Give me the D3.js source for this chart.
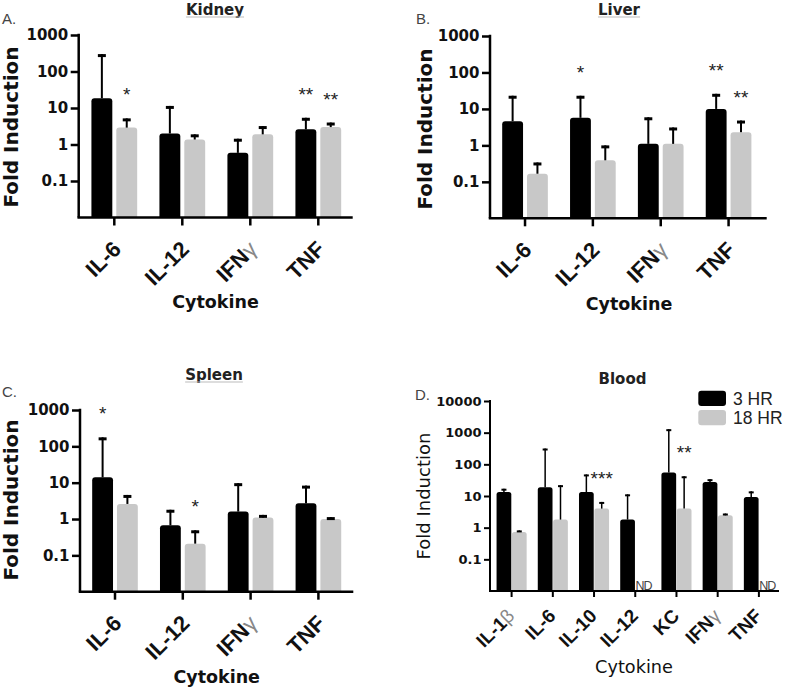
<!DOCTYPE html>
<html><head><meta charset="utf-8">
<script src="https://cdn.jsdelivr.net/npm/d3@7"></script>
<style>body{margin:0;background:#fff} svg{display:block}</style>
</head><body>
<svg id="chart" width="787" height="691"></svg>
<script>
// ---------------- DATA ----------------
const seriesNames = ["3 HR", "18 HR"];

const organCats = ["IL-6", "IL-12", "IFNγ", "TNF"];
const yTicksOrgan = [0.1, 1, 10, 100, 1000];
const yTickLabelsOrgan = ["0.1", "1", "10", "100", "1000"];

const kidney3hr = [18.5, 2.0, 0.59, 2.6];
const kidney3hrErr = [300, 11.4, 1.44, 5.4];
const kidney18hr = [2.9, 1.37, 1.9, 3.0];
const kidney18hrErr = [5.2, 1.9, 3.2, 4.0];
const kidneySig3hr = ["", "", "", "**"];
const kidneySig18hr = ["*", "", "", "**"];

const liver3hr = [4.6, 5.7, 1.1, 10.0];
const liver3hrErr = [23, 23, 5.9, 26];
const liver18hr = [0.167, 0.39, 1.1, 2.3];
const liver18hrErr = [0.34, 1.0, 3.1, 4.8];
const liverSig3hr = ["", "*", "", "**"];
const liverSig18hr = ["", "", "", "**"];

const spleen3hr = [14, 0.67, 1.6, 2.7];
const spleen3hrErr = [177, 1.8, 9.7, 8.3];
const spleen18hr = [2.6, 0.21, 1.1, 1.0];
const spleen18hrErr = [4.6, 0.49, 1.3, 1.13];
const spleenSig3hr = ["*", "", "", ""];
const spleenSig18hr = ["", "*", "", ""];

const bloodCats = ["IL-1β", "IL-6", "IL-10", "IL-12", "KC", "IFNγ", "TNF"];
const yTicksBlood = [0.1, 1, 10, 100, 1000, 10000];
const yTickLabelsBlood = ["0.1", "1", "10", "100", "1000", "10000"];
const blood3hr = [13.4, 19, 13.4, 1.8, 55, 27.7, 9.3];
const blood3hrErr = [17, 316, 48, 11.3, 1290, 34, 14];
const blood18hr = [0.73, 1.8, 4.0, null, 4.0, 2.45, null];
const blood18hrErr = [0.82, 22, 6.5, null, 42, 2.8, null];
const bloodSig3hr = ["", "", "", "", "", "", ""];
const bloodSig18hr = ["", "", "***", "", "**", "", ""];
const notDetected = "ND";

// ---------------- DRAWING ----------------
const svg = d3.select("#chart");
const colors = ["#000000", "#c8c8c8"];
const BOLD = "'DejaVu Sans', sans-serif";
const THIN = "'Liberation Sans', Arial, sans-serif";

function roundedTop(x, top, w, bot, r) {
  r = Math.min(r, w / 2, (bot - top));
  return `M${x},${bot}V${top + r}Q${x},${top} ${x + r},${top}H${x + w - r}Q${x + w},${top} ${x + w},${top + r}V${bot}Z`;
}

function catLabel(sel, name) {
  const m = name.match(/^(.*?)([βγ])$/);
  if (m) {
    sel.append("tspan").text(m[1]);
    sel.append("tspan").attr("font-weight", "normal").attr("fill", "#888").text(m[2]);
  } else sel.text(name);
}

function drawPanel(c) {
  const g = svg.append("g");
  const y = d3.scaleLog().domain([0.01, c.max]).range([c.yBottom, c.yTop]);
  const x = d3.scaleBand().domain(c.cats).range([c.bx0, c.bx1])
    .paddingInner(c.pad).paddingOuter(c.pad / 2);
  const xs = d3.scaleBand().domain(seriesNames).range([0, x.bandwidth()]).paddingInner(c.gap);

  const bot = y(0.01);
  c.values.forEach((vals, si) => {
    c.cats.forEach((cat, i) => {
      const v = vals[i];
      if (v == null) return;
      const bx = x(cat) + xs(seriesNames[si]);
      g.append("path").attr("d", roundedTop(bx, y(v), xs.bandwidth(), bot, c.r))
        .attr("fill", colors[si]);
    });
  });
  c.values.forEach((vals, si) => {
    c.cats.forEach((cat, i) => {
      const v = vals[i];
      const bx = x(cat) + xs(seriesNames[si]);
      const cx = bx + xs.bandwidth() / 2;
      if (v == null) {
        g.append("text").attr("x", bx).attr("y", bot - 1.5)
          .attr("font-family", THIN).attr("font-size", 12.5).attr("letter-spacing", -1)
          .attr("fill", "#444").text(notDetected);
        return;
      }
      const e = c.errors[si][i];
      g.append("line").attr("x1", cx).attr("x2", cx).attr("y1", y(v)).attr("y2", y(e))
        .attr("stroke", "#000").attr("stroke-width", c.ew);
      g.append("line").attr("x1", cx - c.capW / 2).attr("x2", cx + c.capW / 2)
        .attr("y1", y(e) + c.capT / 2).attr("y2", y(e) + c.capT / 2)
        .attr("stroke", "#000").attr("stroke-width", c.capT);
      const s = c.sig[si][i];
      if (s) {
        g.append("text").attr("x", cx).attr("y", y(e) - 17).attr("text-anchor", "middle")
          .attr("font-family", THIN).attr("font-size", 19).attr("fill", "#222").text(s);
      }
    });
  });

  const ya = d3.axisLeft(y).tickValues(c.ticks).tickFormat((d, i) => c.tickLabels[i])
    .tickSize(c.tickLen).tickSizeOuter(0).tickPadding(2.5);
  const yg = g.append("g").attr("transform", `translate(${c.x0},0)`).call(ya);
  yg.select(".domain").attr("stroke", "#000").attr("stroke-width", c.aw)
    .attr("d", `M0,${c.yTop - c.aw / 2}V${c.yBottom}`);
  yg.selectAll(".tick line").attr("stroke", "#000").attr("stroke-width", c.aw);
  yg.selectAll(".tick text").attr("font-family", BOLD).attr("font-weight", "bold")
    .attr("font-size", c.tickFont).attr("fill", "#111");

  const xa = d3.axisBottom(x).tickSize(c.tickLen).tickSizeOuter(0).tickFormat("");
  const xg = g.append("g").attr("transform", `translate(0,${c.yBottom})`).call(xa);
  xg.select(".domain").attr("stroke", "#000").attr("stroke-width", c.aw)
    .attr("d", `M${c.x0 - c.aw / 2},0H${c.x1}`);
  xg.selectAll(".tick line").attr("stroke", "#000").attr("stroke-width", c.aw);

  c.cats.forEach(cat => {
    const cx = x(cat) + x.bandwidth() / 2;
    const t = g.append("text")
      .attr("transform", `translate(${cx + c.catDx},${c.yBottom + c.catDy}) rotate(${c.rot})`)
      .attr("text-anchor", "end").attr("font-family", THIN).attr("font-weight", "bold")
      .attr("font-size", c.catFont).attr("fill", "#111");
    catLabel(t, cat);
  });

  const tt = g.append("text").attr("x", c.titleX).attr("y", c.titleY).attr("text-anchor", "middle")
    .attr("font-family", BOLD).attr("font-weight", "bold").attr("font-size", 15).attr("fill", "#222")
    .text(c.title);
  if (c.underline) {
    const w = tt.node().getComputedTextLength();
    g.append("line").attr("x1", c.titleX - w / 2).attr("x2", c.titleX + w / 2)
      .attr("y1", c.titleY + 2).attr("y2", c.titleY + 2).attr("stroke", "#bbb").attr("stroke-width", 1);
  }
  g.append("text").attr("x", c.letterX).attr("y", c.letterY)
    .attr("font-family", THIN).attr("font-size", 15).attr("fill", "#444").text(c.letter);
  g.append("text").attr("transform", `translate(${c.ylabX},${c.ylabY}) rotate(-90)`)
    .attr("text-anchor", "middle").attr("font-family", BOLD)
    .attr("font-weight", c.ylabBold ? "bold" : "normal")
    .attr("font-size", c.ylabFont).attr("fill", "#111").text("Fold Induction");
  g.append("text").attr("x", c.xlabX).attr("y", c.xlabY).attr("text-anchor", "middle")
    .attr("font-family", BOLD).attr("font-weight", c.xlabBold ? "bold" : "normal")
    .attr("font-size", c.xlabFont).attr("fill", "#111").text("Cytokine");
}

const organStyle = {
  cats: organCats, ticks: yTicksOrgan, tickLabels: yTickLabelsOrgan, max: 1000,
  pad: 0.327, gap: 0.16, r: 3, ew: 2, capW: 8, capT: 3, aw: 2.5, tickLen: 8,
  tickFont: 15, catFont: 22, catDx: 8, catDy: 33, rot: -45, underline: true,
  ylabFont: 20, ylabBold: true, xlabFont: 17.5, xlabBold: true
};

drawPanel(Object.assign({}, organStyle, {
  x0: 78.7, x1: 352.7, bx0: 80.3, bx1: 352.3, yTop: 35, yBottom: 217.5,
  values: [kidney3hr, kidney18hr], errors: [kidney3hrErr, kidney18hrErr],
  sig: [kidneySig3hr, kidneySig18hr],
  title: "Kidney", titleX: 215, titleY: 15, letter: "A.", letterX: 2, letterY: 24,
  ylabX: 18.3, ylabY: 127, xlabX: 215.5, xlabY: 308.3
}));
drawPanel(Object.assign({}, organStyle, {
  x0: 490, x1: 766.7, bx0: 491.1, bx1: 762.5, yTop: 36, yBottom: 218.3,
  values: [liver3hr, liver18hr], errors: [liver3hrErr, liver18hrErr],
  sig: [liverSig3hr, liverSig18hr],
  title: "Liver", titleX: 619, titleY: 15, letter: "B.", letterX: 416, letterY: 24,
  ylabX: 432, ylabY: 129, xlabX: 629, xlabY: 309.5
}));
drawPanel(Object.assign({}, organStyle, {
  x0: 80, x1: 353.3, bx0: 81.1, bx1: 352.3, yTop: 410, yBottom: 591.7,
  values: [spleen3hr, spleen18hr], errors: [spleen3hrErr, spleen18hrErr],
  sig: [spleenSig3hr, spleenSig18hr],
  title: "Spleen", titleX: 214, titleY: 380, letter: "C.", letterX: 2, letterY: 396.5,
  ylabX: 18.3, ylabY: 500, xlabX: 216.7, xlabY: 682.7
}));
drawPanel({
  cats: bloodCats, ticks: yTicksBlood, tickLabels: yTickLabelsBlood, max: 10000,
  pad: 0.27, gap: 0.04, r: 2.5, ew: 1.5, capW: 5, capT: 2, aw: 2, tickLen: 6,
  tickFont: 13, catFont: 19, catDx: 4, catDy: 26, rot: -45, underline: false,
  ylabFont: 18, ylabBold: false, xlabFont: 17.7, xlabBold: false,
  x0: 490, x1: 779, bx0: 491, bx1: 779.5, yTop: 401, yBottom: 591,
  values: [blood3hr, blood18hr], errors: [blood3hrErr, blood18hrErr],
  sig: [bloodSig3hr, bloodSig18hr],
  title: "Blood", titleX: 622.5, titleY: 384, letter: "D.", letterX: 415, letterY: 400,
  ylabX: 430, ylabY: 496, xlabX: 634, xlabY: 673
});

const lg = svg.append("g");
seriesNames.forEach((s, i) => {
  lg.append("rect").attr("x", 698.3).attr("y", 390.7 + i * 19.3).attr("width", 27.7)
    .attr("height", 15.3).attr("rx", 3).attr("fill", colors[i]);
  lg.append("text").attr("x", 733).attr("y", 405 + i * 19.3)
    .attr("font-family", THIN).attr("font-size", 17.5).attr("fill", "#222").text(s);
});
</script>
</body></html>
